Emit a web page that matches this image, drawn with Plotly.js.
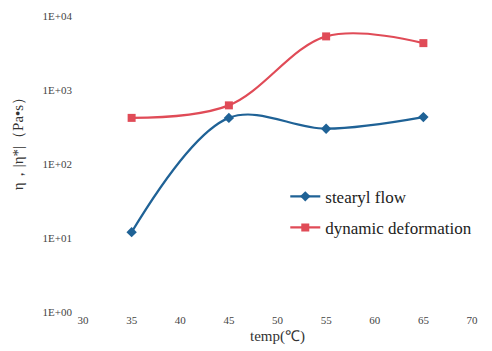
<!DOCTYPE html>
<html>
<head>
<meta charset="utf-8">
<script src="https://cdn.plot.ly/plotly-3.0.1.min.js"></script>
<style>html,body{margin:0;padding:0;background:#fff;}#chart{width:492px;height:351px;}</style>
</head>
<body>
<div id="chart"></div>
<script>
var temps = [35, 45, 55, 65];
var stearylFlow = [12, 420, 300, 430];
var dynamicDeformation = [420, 620, 5300, 4300];
var yTickVals = [1, 10, 100, 1000, 10000];
var yTickText = ["1E+00", "1E+01", "1E+02", "1E+03", "1E+04"];
var xTickVals = [30, 35, 40, 45, 50, 55, 60, 65, 70];

var serif = "'Liberation Serif', 'Times New Roman', serif";
var data = [
  {x: temps, y: stearylFlow, name: "stearyl flow", mode: "lines+markers", legendgroup: "a",
   line: {color: "#1f6296", width: 2.2, shape: "spline"},
   marker: {symbol: "diamond", size: 8, color: "#1f6296"}},
  {x: temps, y: dynamicDeformation, name: "dynamic deformation", mode: "lines+markers", legendgroup: "b",
   line: {color: "#e04b57", width: 2.2, shape: "spline"},
   marker: {symbol: "square", size: 8, color: "#e04b57"}}
];
var layout = {
  width: 492, height: 351,
  margin: {l: 83, r: 20, t: 16, b: 39},
  paper_bgcolor: "#fff", plot_bgcolor: "#fff",
  font: {family: serif, color: "#444", size: 11},
  showlegend: true,
  legend: {x: 0.52, y: 0.45, xanchor: "left", yanchor: "top",
           font: {family: serif, size: 17, color: "#222"}, bgcolor: "rgba(0,0,0,0)",
           tracegroupgap: 6, itemwidth: 30},
  xaxis: {range: [30, 70], tickvals: xTickVals, showgrid: false, zeroline: false,
          showline: false, ticks: "", tickfont: {size: 11},
          title: {text: "temp(℃)", font: {size: 15, color: "#333"}, standoff: 5}},
  yaxis: {type: "log", range: [0, 4], tickvals: yTickVals, ticktext: yTickText,
          showgrid: false, zeroline: false, showline: false, ticks: "",
          tickfont: {size: 11}, ticklabelstandoff: 10},
  annotations: [{text: "η，|η*|（Pa•s）", textangle: -90, xref: "paper", yref: "paper",
                 x: -0.165, y: 0.58, xanchor: "center", yanchor: "middle", showarrow: false,
                 font: {family: serif, size: 15, color: "#333"}}]
};
Plotly.newPlot("chart", data, layout, {displayModeBar: false, staticPlot: true});
</script>
</body>
</html>
